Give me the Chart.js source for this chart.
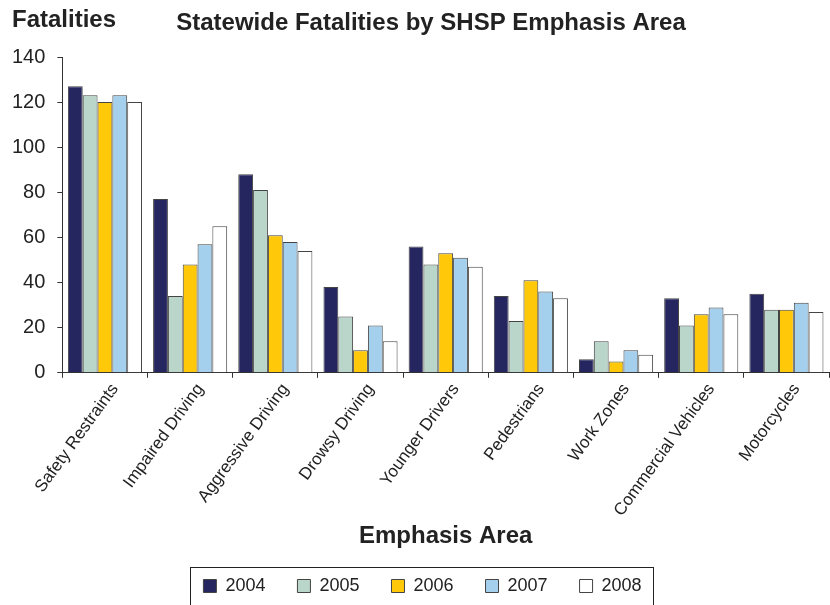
<!DOCTYPE html>
<html>
<head>
<meta charset="utf-8">
<script src="https://cdn.jsdelivr.net/npm/chart.js@4.4.1/dist/chart.umd.min.js"></script>
<style>
  html,body{margin:0;padding:0;background:#fff;overflow:hidden;}
  #wrap{width:830px;height:605px;}
</style>
</head>
<body>
<div id="wrap"><canvas id="c" width="830" height="605"></canvas></div>
<script>
Chart.defaults.font.family="'Liberation Sans',Arial,sans-serif";
Chart.defaults.color='#222';

const areas = ['Safety Restraints','Impaired Driving','Aggressive Driving','Drowsy Driving',
  'Younger Drivers','Pedestrians','Work Zones','Commercial Vehicles','Motorcycles'];
const years = ['2004','2005','2006','2007','2008'];
const yearColors = ['#25265f','#bad6cb','#ffc90a','#a4d0ee','#ffffff'];

const f2004 = [127, 77, 88, 38, 56, 34, 6, 33, 35];
const f2005 = [123, 34, 81, 25, 48, 23, 14, 21, 28];
const f2006 = [120, 48, 61, 10, 53, 41, 5, 26, 28];
const f2007 = [123, 57, 58, 21, 51, 36, 10, 29, 31];
const f2008 = [120, 65, 54, 14, 47, 33, 8, 26, 27];
const series = [f2004, f2005, f2006, f2007, f2008];

const yTicks = [0,20,40,60,80,100,120,140];

/* titles, legend nudge + legend frame */
const extras = {
  id:'extras',
  afterLayout(chart){
    chart.legend.left += 8;
    chart.legend.right += 8;
  },
  afterDraw(chart){
    const ctx = chart.ctx;
    ctx.save();
    ctx.fillStyle = '#222';
    ctx.textBaseline = 'middle';
    ctx.font = "bold 24px 'Liberation Sans',Arial,sans-serif";
    ctx.textAlign = 'left';
    ctx.fillText('Fatalities', 12, 20);
    ctx.textAlign = 'center';
    ctx.fillText('Statewide Fatalities by SHSP Emphasis Area', 431, 23);

    const hb = chart.legend.legendHitBoxes;
    if (hb && hb.length){
      const x0 = hb[0].left - 13;
      const x1 = hb[hb.length-1].left + hb[hb.length-1].width + 12;
      ctx.strokeStyle = '#222';
      ctx.lineWidth = 1;
      ctx.strokeRect(Math.round(x0)+0.5, 567.5, Math.round(x1-x0), 60);
    }
    ctx.restore();
  }
};

new Chart(document.getElementById('c'),{
  type:'bar',
  data:{
    labels:areas,
    datasets:years.map((y,i)=>({
      label:y,
      data:series[i],
      backgroundColor:yearColors[i],
      borderColor:'#444',
      borderWidth:1,
      barPercentage:1,
      categoryPercentage:0.87
    }))
  },
  options:{
    responsive:false,
    animation:false,
    layout:{padding:{top:57,left:0,right:1,bottom:0}},
    plugins:{
      legend:{
        position:'bottom',
        labels:{boxWidth:13,boxHeight:13,padding:32,color:'#222',font:{size:18}}
      },
      tooltip:{enabled:false}
    },
    scales:{
      x:{
        afterFit:s=>{s.paddingLeft=0;s.paddingRight=0;},
        grid:{display:true,drawOnChartArea:false,offset:true,tickLength:5,color:'#333'},
        border:{color:'#333',width:1},
        ticks:{font:{size:17},color:'#222',minRotation:54,maxRotation:54,padding:2,labelOffset:10},
        title:{display:true,text:'Emphasis Area',font:{size:24,weight:'bold'},color:'#222',padding:{top:0,bottom:-6}}
      },
      y:{
        min:0,max:140,
        afterBuildTicks:s=>{s.ticks=yTicks.map(v=>({value:v}));},
        grid:{display:true,drawOnChartArea:false,tickLength:5,color:'#333'},
        border:{color:'#333',width:1},
        ticks:{font:{size:20},color:'#222',padding:12}
      }
    }
  },
  plugins:[extras]
});
</script>
</body>
</html>
